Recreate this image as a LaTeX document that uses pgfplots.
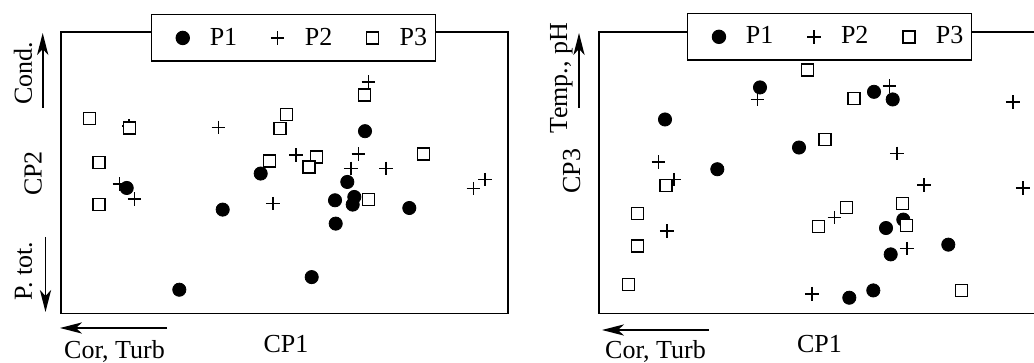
\documentclass[border=0pt]{standalone}
\usepackage{pgfplots}
\pgfplotsset{compat=1.18}
\usetikzlibrary{arrows.meta}
\usepackage{fontspec}
\setmainfont{Liberation Serif}
\begin{document}
\begin{tikzpicture}[x=0.5pt,y=-0.5pt,font=\fontsize{13}{15}\selectfont]
\pgfplotsset{
  panel/.style={
    anchor=north west, scale only axis,
    width=223.5pt, height=140.7pt,
    y dir=reverse, ticks=none, axis line style={line width=0.6pt},
    clip=false,
    legend columns=3,
    legend cell align=left,
    legend image code/.code={\path[draw=none,fill=none] (-11.5pt,0pt) -- (3.3pt,0pt);
      \draw[##1] plot coordinates {(0pt,0pt)};},
    legend style={draw=black, line width=0.6pt, fill=white, anchor=center,
      font=\fontsize{13}{15}\selectfont, inner xsep=4.25pt, inner ysep=6.5pt,
      nodes={inner sep=0pt},
      /tikz/every odd column/.append style={column sep=10.2pt},
      /tikz/every even column/.append style={column sep=8.7pt}},
  },
  p1/.style={only marks, mark=*, mark size=3.3pt, mark options={fill=black, draw=black}},
  p2/.style={only marks, mark=+, mark size=3.4pt, mark options={line width=0.8pt, black}},
  p3/.style={only marks, mark=square*, mark size=3pt, mark options={fill=white, draw=black, line width=0.75pt}},
}
% ---------- left panel ----------
\begin{axis}[panel, at={(61,32)}, xmin=61, xmax=508, ymin=32, ymax=313,
  legend style={at={(0.52,0.979)}}]
\addplot[p1] coordinates {(126.7,187.7) (222.7,209.3) (179.3,289.3) (260.7,173.3) (365,131) (347.3,181.7) (335,200) (354.3,196.7) (352.7,204.3) (409.3,207.7) (335.7,223.3) (311.7,276.7)};
\addplot[p2] coordinates {(129,126) (218.3,127.3) (119.3,184) (134.3,199) (368.3,81.7) (296,155) (358.3,154) (350.7,168.3) (386,168.3) (272.7,203.3) (473.3,188.3) (485,179.3)};
\addplot[p3] coordinates {(89.3,118.3) (129.3,127.7) (99,162.3) (99,204.3) (364.3,95) (286.7,114.3) (280,128.3) (269.3,161) (316.7,156.7) (309,166.7) (423.3,154) (368.3,199)};
\legend{P1,P2,P3}
\end{axis}
% ---------- right panel ----------
\begin{axis}[panel, at={(599,32)}, xmin=599, xmax=1046, ymin=32, ymax=313,
  legend style={at={(0.516,0.983)}}]
\addplot[p1] coordinates {(760,87.3) (665,119.3) (717.3,169) (874,91.7) (892.7,99.3) (799,147.3) (903.3,219.3) (886,227.7) (890.7,254) (948.3,244.3) (849.3,297.3) (873.3,290)};
\addplot[p2] coordinates {(757.3,99.3) (658.3,161.7) (674,179.3) (666.7,230.7) (889.3,86) (1012.7,101.7) (896.7,153.3) (924,185) (1022.7,187.7) (834.3,217.3) (906.7,248.3) (811.7,293.3)};
\addplot[p3] coordinates {(666,185) (637.3,213.3) (637.3,245.7) (628.3,284) (807.3,70) (854,98.3) (825,139.3) (846.7,207.3) (818.3,226) (902.3,203.3) (906.7,225) (961.7,290)};
\legend{P1,P2,P3}
\end{axis}
% ---------- annotations ----------
\tikzset{myarrow/.style={-{Stealth[length=11pt,width=5.6pt,inset=3pt]},line width=0.9pt}}
\node[anchor=base] at (286,353) {CP1};
\node[anchor=base] at (114.5,358) {Cor, Turb};
\draw[myarrow] (167,328) -- (60,328);
\node[anchor=base,rotate=90] at (32,73) {Cond.};
\draw[myarrow] (42.7,108) -- (42.7,33);
\node[anchor=base,rotate=90] at (41.5,173.5) {CP2};
\node[anchor=base,rotate=90] at (32,271) {P. tot.};
\draw[myarrow] (45.5,237) -- (45.5,312);
\node[anchor=base] at (819.5,353) {CP1};
\node[anchor=base] at (655.5,358) {Cor, Turb};
\draw[myarrow] (709,330) -- (602,330);
\node[anchor=base,rotate=90] at (567,78) {Temp., pH};
\node[anchor=base,rotate=90] at (580,171) {CP3};
\draw[myarrow] (579,108) -- (579,33);
\pgfresetboundingbox
\path[use as bounding box] (0,0) rectangle (1034,363);
\end{tikzpicture}
\end{document}
